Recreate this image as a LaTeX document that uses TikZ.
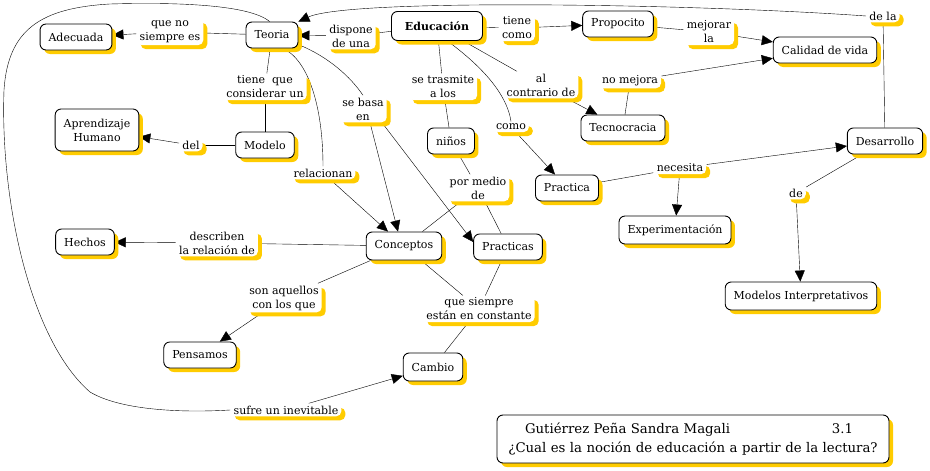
\documentclass[tikz,border=0pt]{standalone}
\usepackage{fontspec}
\setmainfont{DejaVu Serif}
\usetikzlibrary{arrows.meta,shadows}
\definecolor{cmapyellow}{RGB}{255,204,0}
\pgfdeclarelayer{edges}
\pgfsetlayers{edges,main}
\newcommand{\mapfont}{\fontsize{11}{14}\selectfont}
\begin{document}
\begin{tikzpicture}[x=1pt,y=-1pt,line width=0.8pt,
  concept/.style={draw=black, line width=0.9pt, rounded corners=6pt, fill=white, align=center,
    inner xsep=8.5pt, inner ysep=4pt, minimum height=26pt, font=\mapfont,
    drop shadow={shadow xshift=4pt,shadow yshift=-4pt,fill=cmapyellow,opacity=1}},
  link/.style={fill=white, align=center, inner xsep=3pt, inner ysep=2pt, rounded corners=5pt, font=\mapfont,
    drop shadow={shadow xshift=4pt,shadow yshift=-4pt,fill=cmapyellow,opacity=1}},
  arr/.style={-{Triangle[length=11pt,width=10pt]}}]
\useasboundingbox (0,0) rectangle (930,471);

% concepts
\node[concept] (adec) at (76,37) {Adecuada};
\node[concept] (teoria) at (272,35) {Teoria};
\node[concept, font=\mapfont\bfseries, minimum height=29pt, minimum width=91pt] (educ) at (437,26) {Educación};
\node[concept] (prop) at (618,24) {Propocito};
\node[concept] (calidad) at (825,50) {Calidad de vida};
\node[concept, minimum height=42pt] (aprend) at (97,130) {Aprendizaje\\Humano};
\node[concept] (modelo) at (265,145) {Modelo};
\node[concept] (tecno) at (623,128) {Tecnocracia};
\node[concept] (ninos) at (451,141) {niños};
\node[concept] (desa) at (885,141) {Desarrollo};
\node[concept] (practica) at (567,188) {Practica};
\node[concept] (hechos) at (85,242) {Hechos};
\node[concept, minimum height=28pt] (conceptos) at (404,246) {Conceptos};
\node[concept] (practicas) at (508,247) {Practicas};
\node[concept, minimum height=28pt] (experim) at (675,230) {Experimentación};
\node[concept, minimum height=28pt] (modint) at (801,296) {Modelos Interpretativos};
\node[concept] (pensamos) at (200,355) {Pensamos};
\node[concept, minimum height=28pt] (cambio) at (433,367) {Cambio};
\node[concept, font=\fontsize{13.3}{19}\selectfont, text width=380pt, inner xsep=6pt, minimum height=48pt] (title) at (693,439)
  {\hbox to 380pt{\hspace{22pt}Gutiérrez Peña Sandra Magali\hfill 3.1\hspace{30pt}}\\¿Cual es la noción de educación a partir de la lectura?};

% linking phrases
\node[link] (lqne) at (170,32) {que no\\siempre es};
\node[link] (ldisp) at (351,36) {dispone\\de una};
\node[link] (ltc) at (517,28) {tiene\\como};
\node[link] (lmej) at (709,32) {mejorar\\la};
\node[link] (ldela) at (883,16) {de la};
\node[link] (ltq) at (265,87) {tiene\ \ que\\considerar un};
\node[link] (lbasa) at (363,109) {se basa\\en};
\node[link] (ltras) at (443,87) {se trasmite\\a los};
\node[link] (lcontr) at (541,85) {al\\contrario de};
\node[link] (lnomej) at (630,81) {no mejora};
\node[link] (lcomo) at (511,127) {como};
\node[link] (ldel) at (191,145) {del};
\node[link] (lrel) at (323,173) {relacionan};
\node[link] (lmedio) at (478,188) {por medio\\de};
\node[link] (lnec) at (680,168) {necesita};
\node[link] (lde) at (796,193) {de};
\node[link] (ldesc) at (217,243) {describen\\la relación de};
\node[link] (lson) at (284,298) {son aquellos\\con los que};
\node[link] (lsiempre) at (479,309) {que siempre\\están en constante};
\node[link] (lsufre) at (286,410) {sufre un inevitable};

\begin{pgfonlayer}{edges}
\fill[white] (0,0) rectangle (930,471);
% Teoria -> Adecuada
\draw (teoria) -- (lqne);
\draw[arr] (lqne) -- (adec);
% Educacion -> Teoria
\draw (educ) -- (ldisp);
\draw[arr] (ldisp) -- (teoria);
% Educacion -> Propocito
\draw (educ) -- (ltc);
\draw[arr] (ltc) -- (prop);
% Propocito -> Calidad
\draw (prop) -- (lmej);
\draw[arr] (lmej) -- (calidad);
% Tecnocracia -> Calidad
\draw (tecno) -- (lnomej);
\draw[arr] (lnomej) -- (calidad);
% Educacion -> Tecnocracia
\draw (educ) -- (lcontr);
\draw[arr] (lcontr) -- (tecno);
% Educacion -> Practica
\draw (educ.-55) .. controls +(20,15) and +(-5,-35) .. (lcomo.north);
\draw[arr] (lcomo) -- ([xshift=-12pt]practica.north);
% Educacion -> ninos
\draw (educ) -- (ltras);
\draw (ltras) -- (ninos);
% ninos - por medio de
\draw (ninos) -- (lmedio);
\draw (lmedio) -- (conceptos);
\draw (lmedio) -- (practicas);
% Desarrollo -> Teoria
\draw (desa) -- (ldela);
\draw[arr] (ldela.west) .. controls (700,4) and (350,-2) .. (teoria.north east);
% Teoria - Modelo
\draw (teoria) -- (ltq);
\draw (ltq) -- (modelo);
% Modelo -> Aprendizaje
\draw (modelo) -- (ldel);
\draw[arr] (ldel) -- (aprend);
% Teoria -> se basa en
\draw (teoria.-20) .. controls +(30,12) and +(-12,-18) .. (lbasa.north);
\draw[arr] ([xshift=7pt]lbasa.south) -- ([xshift=-6pt]conceptos.north);
\draw[arr] ([xshift=19pt]lbasa.south) -- ([yshift=5pt]practicas.west);
% Teoria -> relacionan
\draw (teoria.-50) .. controls +(25,12) and +(0,-60) .. (lrel.north);
\draw[arr] (lrel) -- (conceptos);
% Conceptos -> Hechos
\draw (conceptos) -- (ldesc);
\draw[arr] (ldesc) -- (hechos);
% Conceptos -> Pensamos
\draw (conceptos) -- (lson);
\draw[arr] (lson) -- (pensamos);
% Conceptos / Practicas - Cambio
\draw (conceptos) -- (lsiempre);
\draw (practicas) -- (lsiempre);
\draw (lsiempre) -- (cambio);
% Teoria -> Cambio
\draw (teoria.100) .. controls (250,5) and (180,2) .. (110,4)
  .. controls (40,8) and (8,30) .. (4,90)
  .. controls (0,200) and (30,340) .. (90,392)
  .. controls (120,410) and (180,413) .. (lsufre.west);
\draw[arr] (lsufre) -- (cambio);
% Practica -> Desarrollo / Experimentacion
\draw (practica) -- (lnec);
\draw[arr] (lnec) -- (desa);
\draw[arr] (lnec) -- (experim);
% Desarrollo -> Modelos Interpretativos
\draw (desa) -- (lde);
\draw[arr] (lde) -- (modint);
\end{pgfonlayer}
\end{tikzpicture}
\end{document}
